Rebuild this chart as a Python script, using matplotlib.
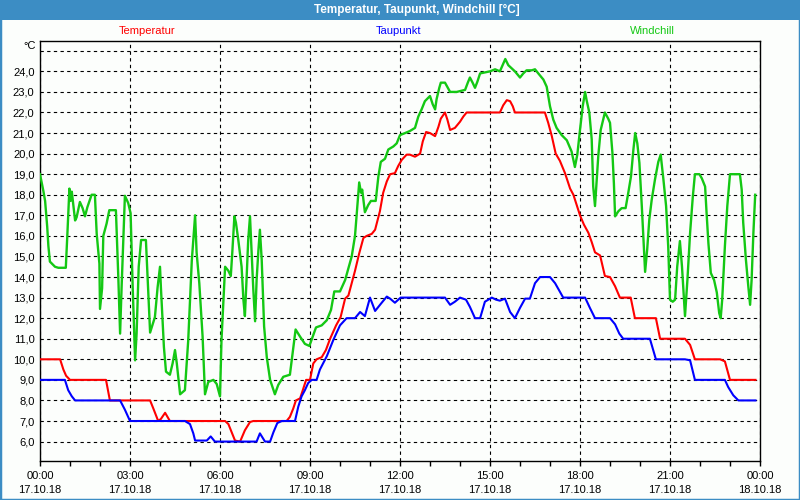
import matplotlib
matplotlib.use('Agg')
import matplotlib.pyplot as plt
from matplotlib.patches import Rectangle

# Messwerte 17.10.18, Zeit in Stunden
temp_t = [0.0, 0.67, 0.78, 0.87, 1.0, 2.2, 2.33, 3.67, 3.78, 3.94, 4.03, 4.17, 4.33,
          6.17, 6.28, 6.5, 6.67, 6.83, 7.0, 7.11, 8.22, 8.33, 8.44, 8.53, 8.67, 8.76,
          8.87, 9.0, 9.11, 9.22, 9.39, 9.53, 9.67, 9.87, 10.02, 10.17, 10.28, 10.39,
          10.5, 10.64, 10.78, 10.89, 11.06, 11.17, 11.33, 11.44, 11.56, 11.67, 11.83,
          11.94, 12.06, 12.22, 12.33, 12.5, 12.67, 12.76, 12.87, 13.0, 13.17, 13.28,
          13.36, 13.5, 13.58, 13.67, 13.83, 14.0, 14.11, 14.22, 15.33, 15.44, 15.56,
          15.67, 15.76, 15.83, 16.83, 16.94, 17.06, 17.19, 17.33, 17.5, 17.67, 17.78,
          17.89, 18.0, 18.13, 18.28, 18.39, 18.5, 18.67, 18.83, 19.0, 19.17, 19.33,
          19.69, 19.83, 20.53, 20.67, 21.5, 21.67, 21.83, 22.67, 22.83, 23.0, 23.85]
temp_v = [10.0, 10.0, 9.5, 9.2, 9.0, 9.0, 8.0, 8.0, 7.6, 7.0, 7.1, 7.4, 7.0,
          7.0, 6.85, 6.05, 6.0, 6.55, 6.95, 7.0, 7.0, 7.2, 7.6, 8.0, 8.1, 8.5,
          9.0, 9.0, 9.8, 10.0, 10.1, 10.45, 11.0, 11.65, 12.05, 12.95, 13.1, 13.7,
          14.3, 15.15, 15.9, 16.0, 16.1, 16.3, 17.2, 18.1, 18.65, 19.0, 19.05,
          19.4, 19.7, 19.95, 19.95, 19.85, 20.0, 20.6, 21.05, 21.0, 20.85, 21.3,
          21.7, 22.0, 21.65, 21.15, 21.25, 21.55, 21.8, 22.0, 22.0, 22.35, 22.6,
          22.55, 22.3, 22.0, 22.0, 21.5, 20.85, 20.0, 19.65, 19.05, 18.3, 18.0,
          17.5, 17.0, 16.55, 16.15, 15.7, 15.2, 15.05, 14.05, 14.0, 13.55, 13.0,
          13.0, 12.0, 12.0, 11.0, 11.0, 10.7, 10.0, 10.0, 9.9, 9.0, 9.0]

taup_t = [0.0, 0.83, 0.94, 1.06, 1.17, 2.67, 2.83, 3.0, 4.83, 5.0, 5.11, 5.17, 5.56,
          5.69, 5.83, 7.22, 7.33, 7.5, 7.67, 7.78, 7.91, 8.06, 8.5, 8.61, 8.72, 8.83,
          8.94, 9.06, 9.22, 9.33, 9.56, 9.78, 10.0, 10.22, 10.5, 10.67, 10.83, 11.0,
          11.17, 11.39, 11.56, 11.67, 11.83, 12.02, 13.5, 13.67, 13.83, 14.0, 14.2,
          14.33, 14.5, 14.67, 14.83, 15.06, 15.2, 15.33, 15.5, 15.67, 15.83, 16.0,
          16.17, 16.33, 16.5, 16.67, 17.0, 17.17, 17.44, 18.17, 18.33, 18.5, 19.0,
          19.17, 19.31, 19.44, 20.33, 20.44, 20.53, 21.5, 21.67, 21.83, 22.83, 22.94,
          23.11, 23.28, 23.85]
taup_v = [9.0, 9.0, 8.5, 8.2, 8.0, 8.0, 7.55, 7.0, 7.0, 6.85, 6.4, 6.05, 6.05,
          6.25, 6.0, 6.0, 6.4, 6.0, 6.0, 6.45, 6.9, 7.0, 7.0, 7.7, 8.2, 8.5,
          8.85, 9.0, 9.0, 9.5, 10.15, 10.95, 11.65, 12.0, 12.0, 12.3, 12.1, 13.0,
          12.35, 12.75, 13.05, 12.95, 12.75, 13.0, 13.0, 12.65, 12.8, 13.0, 12.9,
          12.55, 12.0, 12.0, 12.8, 13.0, 12.9, 12.85, 12.95, 12.3, 12.0, 12.5,
          12.95, 12.95, 13.7, 14.0, 14.0, 13.7, 13.0, 13.0, 12.5, 12.0, 12.0,
          11.7, 11.25, 11.0, 11.0, 10.45, 10.0, 10.0, 9.95, 9.0, 9.0, 8.65,
          8.25, 8.0, 8.0]

wind_t = [0.0, 0.11, 0.17, 0.24, 0.28, 0.33, 0.5, 0.61, 0.86, 0.91, 0.98, 1.02, 1.06,
          1.17, 1.22, 1.33, 1.42, 1.5, 1.58, 1.72, 1.83, 1.89, 1.98, 2.0, 2.07, 2.11,
          2.22, 2.31, 2.53, 2.61, 2.67, 2.72, 2.83, 2.94, 3.02, 3.09, 3.17, 3.22,
          3.29, 3.37, 3.53, 3.61, 3.67, 3.83, 3.92, 4.0, 4.03, 4.13, 4.2, 4.33, 4.42,
          4.5, 4.56, 4.67, 4.83, 4.94, 5.06, 5.17, 5.22, 5.31, 5.42, 5.5, 5.61, 5.78,
          5.89, 6.0, 6.05, 6.17, 6.28, 6.36, 6.41, 6.48, 6.53, 6.61, 6.72, 6.78, 6.83,
          6.89, 6.94, 7.0, 7.06, 7.11, 7.17, 7.22, 7.28, 7.33, 7.39, 7.47, 7.56, 7.67,
          7.83, 7.94, 8.11, 8.33, 8.42, 8.52, 8.67, 8.83, 8.98, 9.09, 9.2, 9.39, 9.56,
          9.7, 9.81, 10.0, 10.17, 10.39, 10.5, 10.58, 10.64, 10.7, 10.74, 10.83, 10.94,
          11.03, 11.19, 11.28, 11.36, 11.5, 11.61, 11.78, 11.89, 12.0, 12.17, 12.33,
          12.5, 12.61, 12.72, 12.83, 13.0, 13.09, 13.17, 13.22, 13.31, 13.36, 13.5,
          13.67, 13.89, 14.17, 14.26, 14.33, 14.42, 14.5, 14.58, 14.67, 14.83, 15.0,
          15.17, 15.33, 15.42, 15.51, 15.61, 15.72, 15.83, 16.0, 16.11, 16.22, 16.39,
          16.5, 16.61, 16.78, 16.89, 17.0, 17.11, 17.22, 17.39, 17.56, 17.72, 17.83,
          17.91, 18.0, 18.09, 18.17, 18.22, 18.31, 18.39, 18.44, 18.5, 18.56, 18.61,
          18.69, 18.83, 18.94, 19.0, 19.08, 19.13, 19.17, 19.28, 19.39, 19.52, 19.61,
          19.7, 19.78, 19.84, 19.91, 19.98, 20.06, 20.11, 20.17, 20.24, 20.31, 20.39,
          20.5, 20.61, 20.69, 20.78, 20.87, 20.94, 21.0, 21.09, 21.17, 21.24, 21.33,
          21.4, 21.5, 21.58, 21.67, 21.76, 21.83, 21.98, 22.06, 22.17, 22.22, 22.28,
          22.36, 22.47, 22.56, 22.64, 22.69, 22.74, 22.83, 22.91, 23.0, 23.33, 23.39,
          23.44, 23.53, 23.61, 23.67, 23.72, 23.78, 23.84]
wind_v = [19.0, 18.2, 17.7, 16.45, 15.5, 14.75, 14.5, 14.45, 14.45, 16.0, 18.3, 17.7, 18.15,
          16.75, 16.9, 17.65, 17.35, 16.95, 17.4, 18.0, 18.0, 16.1, 14.65, 12.45, 13.45, 16.0,
          16.6, 17.25, 17.25, 14.0, 11.25, 13.5, 17.95, 17.6, 17.1, 13.5, 9.95, 11.25,
          14.5, 15.8, 15.8, 13.2, 11.3, 12.05, 13.5, 14.5, 13.5, 10.6, 9.4, 9.25, 9.8,
          10.45, 9.8, 8.3, 8.5, 10.9, 14.8, 17.0, 15.2, 13.7, 11.1, 8.3, 8.9, 9.0,
          8.8, 8.2, 10.95, 14.5, 14.3, 14.05, 15.2, 16.95, 16.65, 15.8, 14.5, 12.9, 12.1,
          14.05, 15.8, 16.95, 15.0, 13.4, 11.85, 13.85, 15.3, 16.3, 14.85, 11.6, 10.1, 9.0,
          8.3, 8.75, 9.15, 9.25, 10.3, 11.45, 11.1, 10.75, 10.65, 11.1, 11.55, 11.65, 11.9,
          12.4, 13.3, 13.3, 13.85, 15.0, 16.0, 17.45, 18.6, 18.1, 18.25, 17.15, 17.5,
          17.7, 17.7, 18.9, 19.6, 19.75, 20.2, 20.35, 20.5, 20.9, 21.0, 21.1,
          21.25, 21.8, 22.15, 22.55, 22.8, 22.4, 22.15, 22.65, 23.2, 23.45, 23.45,
          23.0, 23.0, 23.1, 23.45, 23.7, 23.45, 23.2, 23.5, 23.9, 23.95, 24.0,
          24.1, 24.0, 24.3, 24.6, 24.3, 24.15, 24.0, 23.7, 23.9, 24.05, 24.05,
          24.1, 23.9, 23.6, 23.25, 22.3, 21.65, 21.25, 20.9, 20.65, 20.1, 19.35,
          19.95, 21.15, 22.3, 23.0, 22.6, 22.0, 20.7, 18.4, 17.45, 18.75, 19.9,
          21.15, 22.0, 21.7, 21.5, 20.05, 18.55, 16.95, 17.2, 17.35, 17.35, 18.1,
          18.9, 20.2, 21.0, 20.5, 19.55, 17.45, 16.0, 14.25, 15.35, 16.8, 17.75,
          18.75, 19.6, 19.95, 18.75, 17.45, 15.5, 12.9, 12.8, 12.9, 14.5, 15.75,
          14.5, 12.1, 13.85, 16.15, 17.9, 19.0, 19.0, 18.8, 18.4, 17.1, 15.65,
          14.2, 13.85, 13.25, 12.25, 12.0, 12.9, 15.5, 17.45, 19.0, 19.0, 18.25,
          16.65, 14.85, 13.55, 12.65, 13.85, 16.15, 18.0]

x_ticks = [0, 3, 6, 9, 12, 15, 18, 21, 24]
x_labels = ['00:00\n17.10.18', '03:00\n17.10.18', '06:00\n17.10.18', '09:00\n17.10.18',
            '12:00\n17.10.18', '15:00\n17.10.18', '18:00\n17.10.18', '21:00\n17.10.18',
            '00:00\n18.10.18']
y_ticks = list(range(6, 26))
y_labels = [f'{v},0' for v in range(6, 25)] + ['']

series_names = ['Temperatur', 'Taupunkt', 'Windchill']
series_colors = ['#ff0000', '#0000ff', '#14c814']

plt.rcParams['font.family'] = ['Liberation Sans', 'DejaVu Sans']

bg = '#fcfefc'
fig = plt.figure(figsize=(8, 5), dpi=100, facecolor=bg)
ax = fig.add_axes([40/800, 1 - 460.5/500, 720/800, 420/500], facecolor=bg)

ax.plot(wind_t, wind_v, color=series_colors[2], lw=1.7, zorder=3)
ax.plot(temp_t, temp_v, color=series_colors[0], lw=1.5, zorder=4)
ax.plot(taup_t, taup_v, color=series_colors[1], lw=1.5, zorder=5)

ax.set_xlim(0, 24)
ax.set_ylim(5.08, 25.5)
ax.set_xticks(x_ticks)
ax.set_xticklabels(x_labels, fontsize=8, linespacing=1.55)
ax.set_xticks(range(0, 25), minor=True)
ax.set_yticks(y_ticks)
ax.set_yticklabels(y_labels, fontsize=8)
ax.tick_params(axis='x', which='both', direction='out', length=3.5, width=1, pad=4)
ax.tick_params(axis='y', length=0, pad=4)
ax.grid(True, which='major', color='black', linestyle=(0, (3, 3)), lw=0.8)
for s in ax.spines.values():
    s.set_linewidth(1)

# Titelleiste
fig.patches.append(Rectangle((0, 480/500), 1, 20/500, transform=fig.transFigure,
                             facecolor='#3c8dc4', edgecolor='none', zorder=0))
fig.patches.append(Rectangle((0, 0), 1, 1, transform=fig.transFigure,
                             facecolor='none', edgecolor='#3c8dc4', lw=2.5, zorder=5))
fig.text(417/800, 1 - 10/500, 'Temperatur, Taupunkt, Windchill [°C]', color='white',
         fontsize=8.5, fontweight='bold', ha='center', va='center')

for name, col, xc in zip(series_names, series_colors, [147, 399, 652]):
    fig.text(xc/800, 1 - 31/500, name, color=col, fontsize=8, ha='center', va='center')

fig.text(36/800, 1 - 46/500, '°C', fontsize=8, ha='right', va='center')

fig.savefig('out.png', dpi=100, facecolor=bg)
